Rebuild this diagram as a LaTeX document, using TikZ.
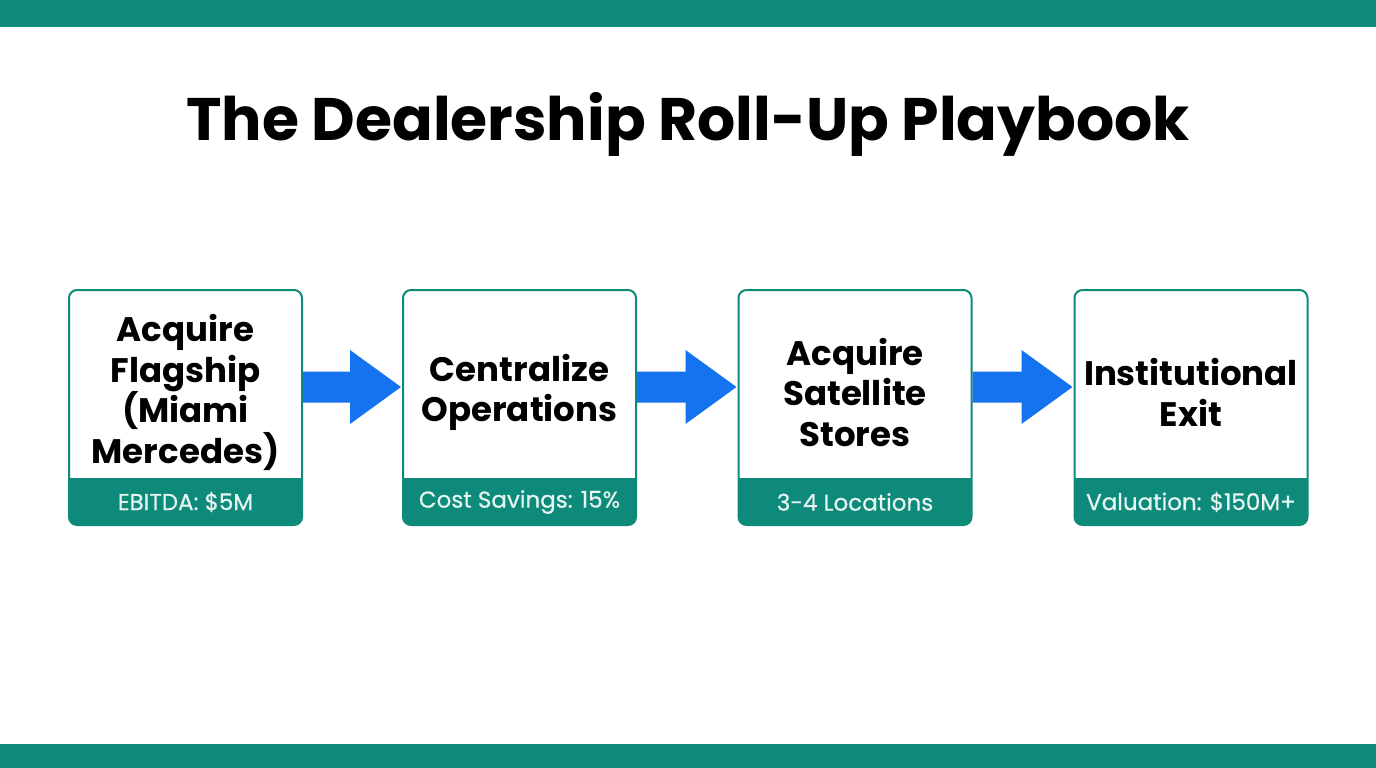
\documentclass[tikz,border=0pt]{standalone}
\usepackage{fontspec}
\setmainfont{Poppins}
\usetikzlibrary{calc}
\definecolor{tealc}{HTML}{0D8A7A}
\definecolor{arrowc}{HTML}{1673F0}
\definecolor{foottext}{HTML}{E6F5F1}
\tikzset{
  box/.style={draw=tealc, line width=2pt, rounded corners=8pt, fill=white, minimum width=233pt, minimum height=235pt, inner sep=0pt},
  boxtext/.style={font=\fontsize{34}{40.5}\selectfont\bfseries, align=center, text=black},
  foottxt/.style={font=\fontsize{23}{26}\selectfont\addfontfeature{FakeBold=0.6}, text=foottext},
  foot/.style={fill=tealc},
  arr/.style={fill=arrowc}
}
\begin{document}
\begin{tikzpicture}[x=1pt,y=1pt]
\useasboundingbox (0,0) rectangle (1376,-768);
\fill[tealc] (0,0) rectangle (1376,-27);
\fill[tealc] (0,-744) rectangle (1376,-768);
\node[font=\fontsize{60}{70}\selectfont\bfseries] (title) at (688,-124) {The Dealership Roll-Up Playbook};

\foreach \i/\cx/\txt/\ft in {1/185.5/{Acquire\\Flagship\\(Miami\\Mercedes)}/{EBITDA: \$5M},
                        2/519.5/{Centralize\\Operations}/{Cost Savings: 15\%},
                        3/855/{Acquire\\Satellite\\Stores}/{3-4 Locations},
                        4/1191/{Institutional\\Exit}/{Valuation: \$150M+}}{
  \node[box] (b\i) at (\cx,-407.5) {};
  \fill[foot] ($(b\i.south west)+(1,48)$) [rounded corners=7pt] -- ($(b\i.south west)+(1,1)$) -- ($(b\i.south east)+(-1,1)$) [sharp corners] -- ($(b\i.south east)+(-1,48)$) -- cycle;
  \node[boxtext] (t\i) at ($(b\i.center)+(0,15)$) {\txt};
  \node[foottxt] (f\i) at ($(b\i.south)+(0,24)$) {\ft};
}
\foreach \a/\b in {1/2,2/3,3/4}{
  \coordinate (s\a) at ($(b\a.east)+(0,20.5)$);
  \coordinate (e\a) at ($(b\b.west)+(-1,20.5)$);
  \fill[arr] ($(s\a)+(0,15.5)$) -- ($(e\a)+(-51,15.5)$) -- ($(e\a)+(-51,37)$) -- (e\a) -- ($(e\a)+(-51,-37)$) -- ($(e\a)+(-51,-15.5)$) -- ($(s\a)+(0,-15.5)$) -- cycle;
}
\end{tikzpicture}
\end{document}
